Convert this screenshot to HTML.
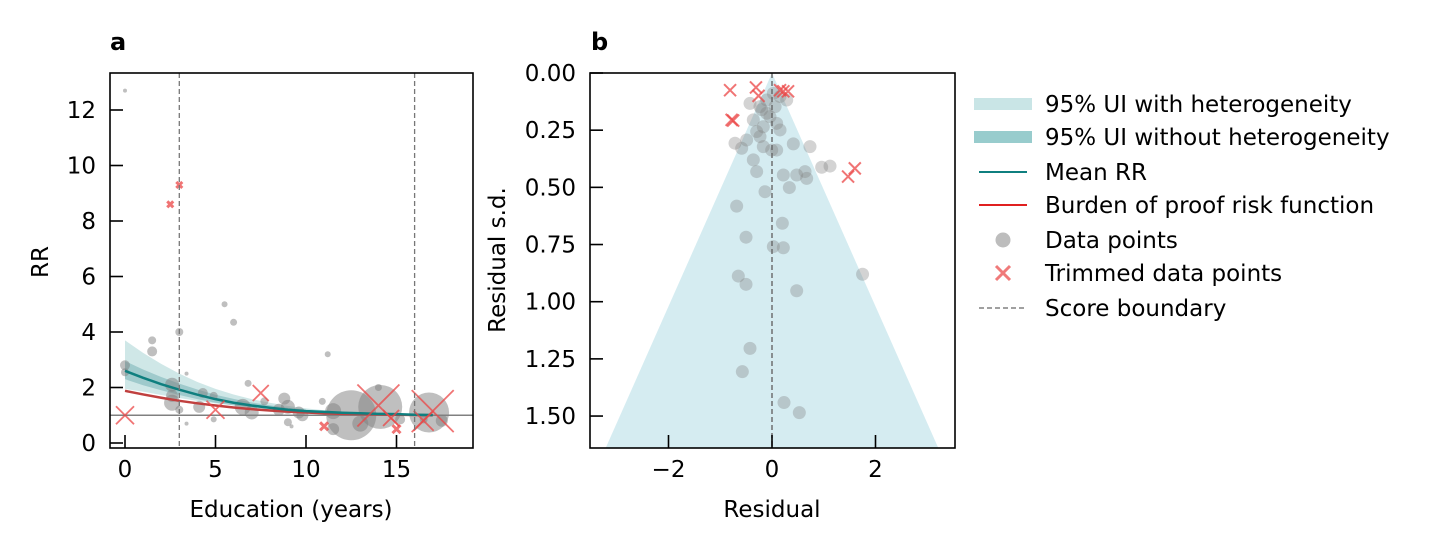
<!DOCTYPE html>
<html><head><meta charset="utf-8">
<style>
body{margin:0;background:#fff;}
svg{display:block;font-family:"DejaVu Sans","Liberation Sans",sans-serif;}
text{fill:#000;}
</style></head>
<body>
<svg id="chart" width="1432" height="550" viewBox="0 0 1432 550">
<g id="pa"></g>
<g id="pb"></g>
<g id="legend"></g>
</svg>
<script>
// Panel a data
const aCurveX = [0,1,2,3,4,5,6,7,8,9,10,11,12,13,14,15,16,17];
const aMean   = [2.6,2.35,2.12,1.92,1.74,1.58,1.45,1.35,1.27,1.2,1.15,1.12,1.09,1.07,1.05,1.04,1.02,1.01];
const aBurden = [1.88,1.75,1.63,1.52,1.43,1.35,1.28,1.22,1.17,1.13,1.1,1.07,1.05,1.04,1.03,1.02,1.01,1.0];
const aHetHi  = [3.7,3.25,2.85,2.5,2.2,1.95,1.75,1.58,1.45,1.34,1.25,1.18,1.12,1.09,1.06,1.05,1.03,1.02];
const aHetLo  = [1.95,1.85,1.73,1.62,1.52,1.43,1.36,1.3,1.24,1.19,1.15,1.11,1.08,1.06,1.05,1.03,1.02,1.01];
const aNoHi   = [2.95,2.65,2.38,2.14,1.93,1.74,1.59,1.46,1.36,1.27,1.2,1.14,1.1,1.08,1.05,1.04,1.02,1.01];
const aNoLo   = [2.3,2.08,1.9,1.73,1.58,1.45,1.35,1.27,1.2,1.15,1.11,1.09,1.07,1.06,1.05,1.04,1.02,1.01];
const aPtX = [0,0,0,1.5,1.5,3,2.6,2.6,2.6,3,3.4,3.4,4.3,4.1,4.9,4.9,5.5,6.0,6.8,6.5,7,7.7,8.5,8.8,9,9,9.8,9.6,11.2,10.9,11.5,12.5,13,14.1,14,15.2,16.5,16.8,17.5,9.2,11.5];
const aPtY = [12.7,2.8,2.55,3.7,3.3,4.0,2.1,1.45,1.7,1.2,2.5,0.7,1.8,1.3,1.7,0.85,5.0,4.35,2.15,1.3,1.1,1.5,1.2,1.6,0.75,1.3,1.0,1.1,3.2,1.5,1.15,1.0,0.7,1.3,2.0,0.85,0.85,1.1,0.8,0.6,0.5];
const aPtR = [2,5,4,4,5,4,7,8,6,4,2,2,5,6,4,3,3,3.5,3.5,8,7,4,6,6,4,7,6,6,3,3.5,8,25,8,22,3.5,5,4,20,6,2,6];
const aTrX = [0,2.5,3,5,7.5,11,14,14.7,15,17,16.5];
const aTrY = [1.0,8.6,9.3,1.2,1.8,0.6,1.35,0.9,0.5,1.15,0.8];
const aTrS = [9,3,3,9,8,4,21,8,4,21,10];
const aXTicks = [0,5,10,15];
const aYTicks = [0,2,4,6,8,10,12];
const aBounds = [3,16];
// Panel b data
const bPtRes = [-0.715,-0.586,0.412,0.734,-0.361,-0.296,0.219,0.477,0.638,0.67,0.96,1.121,0.335,-0.135,-0.683,0.2,-0.502,0.026,0.219,1.75,-0.651,-0.502,0.477,-0.425,-0.573,0.232,0.528,-0.425,-0.232,-0.103,0.026,0.155,-0.361,-0.168,-0.039,0.09,-0.232,-0.168,-0.006,0.09,0.155,-0.103,0.284,-0.296,-0.49,-0.2,0.06];
const bPtSd  = [0.307,0.329,0.31,0.322,0.38,0.431,0.446,0.446,0.431,0.461,0.412,0.407,0.501,0.519,0.582,0.657,0.718,0.759,0.764,0.88,0.888,0.924,0.952,1.204,1.306,1.441,1.485,0.133,0.147,0.118,0.089,0.103,0.205,0.235,0.191,0.22,0.278,0.322,0.337,0.337,0.249,0.176,0.118,0.256,0.293,0.16,0.147];
const bTrRes = [-0.81,-0.31,-0.26,-0.75,-0.78,0.22,0.31,0.155,1.6,1.47];
const bTrSd  = [0.075,0.063,0.1,0.208,0.205,0.08,0.08,0.075,0.417,0.453];
const bXTicks = [-2,0,2];
const bYTicks = [0,0.25,0.5,0.75,1.0,1.25,1.5];
const bYLabels = ["0.00","0.25","0.50","0.75","1.00","1.25","1.50"];

const FS=23;
const NS="http://www.w3.org/2000/svg";
function mk(parent,tag,attrs){const e=document.createElementNS(NS,tag);for(const k in attrs)e.setAttribute(k,attrs[k]);parent.appendChild(e);return e;}

// ---- Panel a ----
const pa=document.getElementById('pa');
const aL=110,aR=473,aT=73,aB=448;
const ax=v=>125+v*18.1;
const ay=v=>443-v*27.75;
let clip=mk(pa,'clipPath',{id:'ca'});mk(clip,'rect',{x:aL,y:aT,width:aR-aL,height:aB-aT});
const ga=mk(pa,'g',{'clip-path':'url(#ca)'});


function band(g,hi,lo,fill,name){
  let d='M'+aCurveX.map((x,i)=>ax(x)+','+ay(hi[i])).join('L');
  d+='L'+aCurveX.slice().reverse().map((x,j)=>{const i=aCurveX.length-1-j;return ax(x)+','+ay(lo[i]);}).join('L')+'Z';
  const p=mk(g,'path',{d:d,fill:fill});
  
  
}
band(ga,aHetHi,aHetLo,'rgba(95,175,175,0.3)','ui-with-heterogeneity');
band(ga,aNoHi,aNoLo,'rgba(70,150,155,0.35)','ui-without-heterogeneity');
let hl=mk(ga,'line',{x1:aL,x2:aR,y1:ay(1),y2:ay(1),stroke:'#808080','stroke-width':1.5});


aPtX.forEach((x,i)=>{const c=mk(ga,'circle',{cx:ax(x),cy:ay(aPtY[i]),r:aPtR[i],fill:'rgba(128,128,128,0.5)'});
  
  });
function line(g,xs,ys,fx,fy,col,w,name){const p=mk(g,'path',{d:'M'+xs.map((x,i)=>fx(x)+','+fy(ys[i])).join('L'),fill:'none',stroke:col,'stroke-width':w});
  
  }
line(ga,aCurveX,aBurden,ax,ay,'#c0403f',2.5,'burden-of-proof-line');
line(ga,aCurveX,aMean,ax,ay,'#0f7f7f',2.5,'mean-rr-line');
function cross(g,cx,cy,s,w){const p=mk(g,'path',{d:`M${cx-s},${cy-s}L${cx+s},${cy+s}M${cx-s},${cy+s}L${cx+s},${cy-s}`,stroke:'rgba(235,70,70,0.75)','stroke-width':w,fill:'none'});
  
  }
aTrX.forEach((x,i)=>cross(ga,ax(x),ay(aTrY[i]),aTrS[i],aTrS[i]<5?3:1.8));
aBounds.forEach(b=>{const l=mk(ga,'line',{x1:ax(b),x2:ax(b),y1:aT,y2:aB,stroke:'#777','stroke-width':1.3,'stroke-dasharray':'5,3'});
  
  });
let fr=mk(pa,'rect',{x:aL,y:aT,width:aR-aL,height:aB-aT,fill:'none',stroke:'#000','stroke-width':1.6});


aXTicks.forEach(t=>{mk(pa,'line',{x1:ax(t),x2:ax(t),y1:aB,y2:aB-13,stroke:'#000','stroke-width':1.6});
  const tx=mk(pa,'text',{x:ax(t),y:aB+29,'font-size':FS,'text-anchor':'middle'});tx.textContent=t;
  
  });
aYTicks.forEach(t=>{mk(pa,'line',{x1:aL,x2:aL+13,y1:ay(t),y2:ay(t),stroke:'#000','stroke-width':1.6});
  const tx=mk(pa,'text',{x:aL-14,y:ay(t)+8,'font-size':FS,'text-anchor':'end'});tx.textContent=t;
  
  });
let t1=mk(pa,'text',{x:291,y:517,'font-size':FS,'text-anchor':'middle'});t1.textContent='Education (years)';


let t2=mk(pa,'text',{x:48,y:262,'font-size':FS,'text-anchor':'middle',transform:'rotate(-90 48 262)'});t2.textContent='RR';


let t3=mk(pa,'text',{x:110,y:50,'font-size':24,'font-weight':'bold'});t3.textContent='a';



// ---- Panel b ----
const pb=document.getElementById('pb');
const bL=590,bR=955,bT=73,bB=448;
const bx=v=>772+v*51.75;
const by=v=>73+v*228.7;
clip=mk(pb,'clipPath',{id:'cb'});mk(clip,'rect',{x:bL,y:bT,width:bR-bL,height:bB-bT});
const gb=mk(pb,'g',{'clip-path':'url(#cb)'});


const sdMax=1.64;
let fun=mk(gb,'path',{d:`M${bx(0)},${by(0)}L${bx(1.96*sdMax)},${by(sdMax)}L${bx(-1.96*sdMax)},${by(sdMax)}Z`,fill:'#d5ecf1'});


bPtRes.forEach((r,i)=>{const c=mk(gb,'circle',{cx:bx(r),cy:by(bPtSd[i]),r:6.5,fill:'rgba(128,128,128,0.35)'});
  
  });
bTrRes.forEach((r,i)=>cross(gb,bx(r),by(bTrSd[i]),6,2));
let zl=mk(gb,'line',{x1:bx(0),x2:bx(0),y1:bT,y2:bB,stroke:'#666','stroke-width':1.4,'stroke-dasharray':'5,3'});


fr=mk(pb,'rect',{x:bL,y:bT,width:bR-bL,height:bB-bT,fill:'none',stroke:'#000','stroke-width':1.6});


bXTicks.forEach(t=>{mk(pb,'line',{x1:bx(t),x2:bx(t),y1:bB,y2:bB-13,stroke:'#000','stroke-width':1.6});
  const tx=mk(pb,'text',{x:bx(t),y:bB+29,'font-size':FS,'text-anchor':'middle'});tx.textContent=t<0?'\u2212'+(-t):t;
  
  });
bYTicks.forEach((t,i)=>{mk(pb,'line',{x1:bL,x2:bL+13,y1:by(t),y2:by(t),stroke:'#000','stroke-width':1.6});
  const tx=mk(pb,'text',{x:bL-14,y:by(t)+8,'font-size':FS,'text-anchor':'end'});tx.textContent=bYLabels[i];
  
  });
t1=mk(pb,'text',{x:772,y:517,'font-size':FS,'text-anchor':'middle'});t1.textContent='Residual';


t2=mk(pb,'text',{x:505,y:260,'font-size':FS,'text-anchor':'middle',transform:'rotate(-90 505 260)'});t2.textContent='Residual s.d.';


t3=mk(pb,'text',{x:591,y:50,'font-size':24,'font-weight':'bold'});t3.textContent='b';



// ---- Legend ----
const lg=document.getElementById('legend');
const items=[["95% UI with heterogeneity","band1"],["95% UI without heterogeneity","band2"],["Mean RR","mean"],["Burden of proof risk function","burden"],["Data points","dot"],["Trimmed data points","x"],["Score boundary","dash"]];
const lys=[104,137,172,205,240,273,308];
items.forEach((it,i)=>{
  const y=lys[i];
  const g=mk(lg,'g',{});
  
  
  if(it[1]=='band1')mk(g,'rect',{x:974,y:y-6,width:58,height:12,fill:'#c9e5e6'});
  if(it[1]=='band2')mk(g,'rect',{x:974,y:y-6,width:58,height:12,fill:'#98cccd'});
  if(it[1]=='mean')mk(g,'line',{x1:979,x2:1027,y1:y,y2:y,stroke:'#0f7f7f','stroke-width':2});
  if(it[1]=='burden')mk(g,'line',{x1:979,x2:1027,y1:y,y2:y,stroke:'#e02020','stroke-width':2});
  if(it[1]=='dot')mk(g,'circle',{cx:1003,cy:y,r:7.5,fill:'#bdbdbd'});
  if(it[1]=='x')mk(g,'path',{d:`M${996},${y-7}L${1010},${y+7}M${996},${y+7}L${1010},${y-7}`,stroke:'#f07a7a','stroke-width':3});
  if(it[1]=='dash')mk(g,'line',{x1:979,x2:1027,y1:y,y2:y,stroke:'#808080','stroke-width':1.5,'stroke-dasharray':'5,3'});
  const tx=mk(g,'text',{x:1045,y:y+8,'font-size':FS});tx.textContent=it[0];
});
</script>
</body></html>
